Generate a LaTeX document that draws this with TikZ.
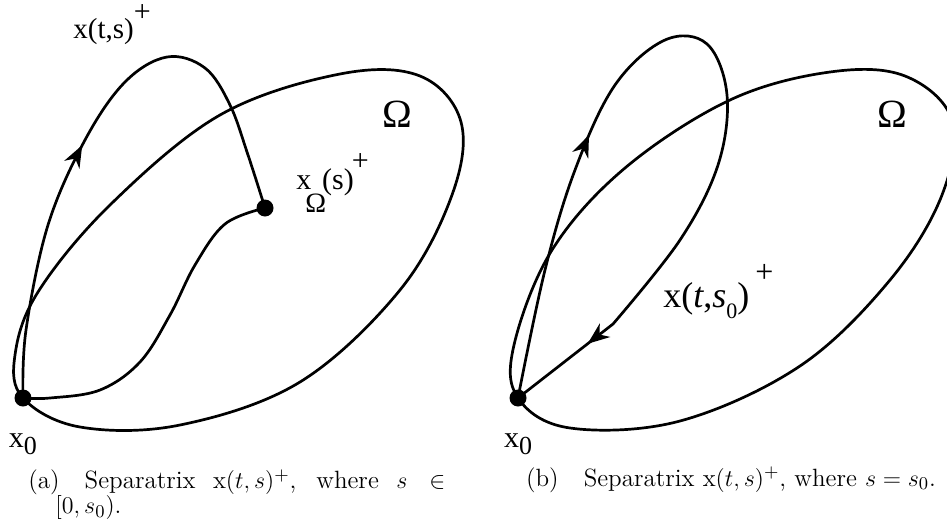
\documentclass[tikz,border=0pt]{standalone}
\usepackage{fontspec}
\usepackage{tikz}
\usetikzlibrary{positioning,arrows.meta,decorations.markings}
\newfontfamily\tms{Liberation Serif}
\tikzset{
  curve/.style={line width=1.35pt,line join=round},
  dot/.style={circle,fill=black,inner sep=0pt,minimum size=8.5pt},
  lbl/.style={font=\tms\fontsize{15}{15}\selectfont,inner sep=0pt},
  omg/.style={font=\tms\fontsize{20}{20}\selectfont,inner sep=0pt},
  captxt/.style={font=\fontsize{12.5}{12.5}\selectfont,inner sep=0pt},
  midarrow/.style={postaction={decorate,decoration={markings,
    mark=at position #1 with {\arrow{Stealth[length=11pt,width=8.5pt,inset=3.5pt]}}}}},
}

\begin{document}
\begin{tikzpicture}[x=0.5pt,y=-0.5pt]
  \useasboundingbox (0,0) rectangle (947,530);
  % (a) s in [0,s0)
  \node[dot] (x0a) at (23,398) {};
  \node[dot] (xoa) at (265,208) {};
  \draw[curve] plot[smooth cycle,tension=0.6] coordinates {(x0a.center) (80,427)
    (180,425) (300,382) (400,290) (452,195) (461,122) (420,76) (340,74) (220,115)
    (110,205) (38,292) (15,355)};
  \draw[curve,midarrow=0.45] plot[smooth,tension=0.6] coordinates {(x0a.center)
    (26,330) (48,225) (85,140) (125,82) (167,57) (205,68) (230,105) (248,155)
    (xoa.center)};
  \draw[curve] plot[smooth,tension=0.6] coordinates {(x0a.center) (50,398)
    (100,390) (140,362) (170,315) (195,265) (225,224) (xoa.center)};
  \node[lbl,below=13pt of x0a] (l0a) {x\raisebox{-3.5pt}{\fontsize{13}{13}\selectfont 0}};
  \node[lbl,anchor=base west,font=\tms\fontsize{14.5}{14.5}\selectfont] (lxa) at (73,38)
    {x(t,s)\raisebox{8.5pt}{\fontsize{15}{15}\selectfont +}};
  \node[lbl,anchor=base west] (lxo) at (296,189)
    {x\kern-3pt\raisebox{-11.5pt}{\fontsize{14}{14}\selectfont Ω}\kern-2pt(s)\kern-1pt\raisebox{9.5pt}{\fontsize{15}{15}\selectfont +}};
  \node[omg] (oma) at (397,114) {Ω};
  \node[captxt,text width=208.5pt,align=justify,anchor=north west] (capa) at (28,469)
    {\noindent\hangindent=13.5pt\hangafter=1 (a)\quad Separatrix $\mathrm{x}(t,s)^+$, where $s\in$\linebreak$[0,s_0)$.\par};
  % (b) s = s0
  \node[dot] (x0b) at (518,398) {};
  \draw[curve] plot[smooth cycle,tension=0.6] coordinates {(x0b.center) (570,428)
    (680,421) (800,366) (890,280) (942,195) (952,120) (905,76) (830,72) (730,100)
    (625,168) (552,250) (514,345)};
  \draw[curve,midarrow=0.31,midarrow=0.9] plot[smooth,tension=0.6] coordinates {(x0b.center)
    (545,270) (575,170) (615,85) (665,40) (707,44) (727,95) (718,165) (680,240)
    (613,324)} -- (x0b.center);
  \node[lbl,below=13pt of x0b] (l0b) {x\raisebox{-3.5pt}{\fontsize{13}{13}\selectfont 0}};
  \node[lbl,anchor=base west,font=\tms\fontsize{18}{18}\selectfont] (lxb) at (663,307)
    {x(\textit{t},\textit{s}\raisebox{-5.5pt}{\fontsize{11}{11}\selectfont 0})\kern3pt\raisebox{12.5pt}{\fontsize{16}{16}\selectfont +}};
  \node[omg] (omb) at (892,114) {Ω};
  \node[captxt,anchor=base] (capb) at (731,486)
    {(b)\quad Separatrix $\mathrm{x}(t,s)^+$, where $s=s_0$.};
\end{tikzpicture}
\end{document}
